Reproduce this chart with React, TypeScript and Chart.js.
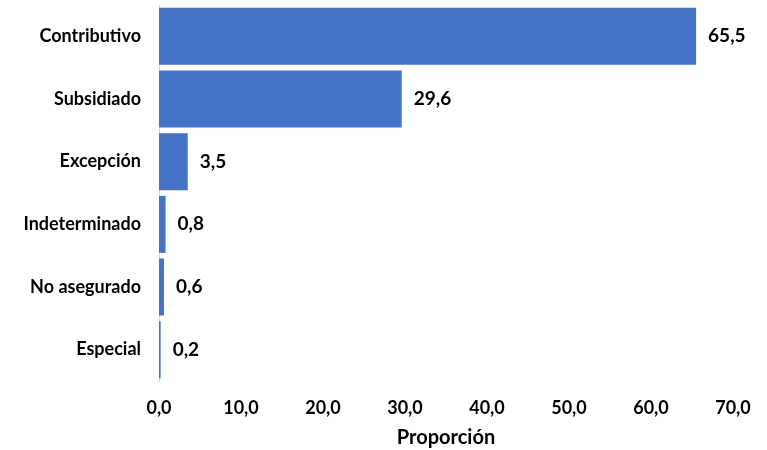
import React, { useEffect, useRef } from "react";
import { Chart, registerables } from "chart.js";

Chart.register(...registerables);

const categories = ["Contributivo", "Subsidiado", "Excepción", "Indeterminado", "No asegurado", "Especial"];
const values = [65.5, 29.6, 3.5, 0.8, 0.6, 0.2];
const axisTitle = "Proporción";

const FONT = "Lato, 'Open Sans', sans-serif";
const fmt = (v: number) => v.toFixed(1).replace(".", ",");

const labelPlugin = {
  id: "barLabels",
  afterDatasetsDraw(chart: any) {
    const { ctx } = chart;
    const meta = chart.getDatasetMeta(0);
    ctx.save();
    ctx.font = `bold 19px ${FONT}`;
    ctx.fillStyle = "#000";
    ctx.textAlign = "left";
    ctx.textBaseline = "middle";
    meta.data.forEach((bar: any, i: number) => {
      ctx.fillText(fmt(values[i]), bar.x + 12, bar.y);
    });
    ctx.restore();
  },
};

export default function App() {
  const ref = useRef<HTMLCanvasElement>(null);
  useEffect(() => {
    const chart = new Chart(ref.current!, {
      type: "bar",
      data: {
        labels: categories,
        datasets: [
          {
            data: values,
            backgroundColor: "#4472C4",
            barPercentage: 0.91,
            categoryPercentage: 1,
          },
        ],
      },
      options: {
        indexAxis: "y",
        animation: false,
        responsive: false,
        devicePixelRatio: 1,
        layout: { padding: { top: 5, right: 34, left: 0, bottom: 0 } },
        plugins: { legend: { display: false }, tooltip: { enabled: false } },
        scales: {
          x: {
            min: 0,
            max: 70,
            ticks: {
              stepSize: 10,
              padding: 16,
              color: "#000",
              font: { family: FONT, size: 18, weight: "bold" },
              callback: (v: any) => fmt(Number(v)),
            },
            grid: { display: false, drawTicks: false },
            border: { display: false },
            title: {
              display: true,
              text: axisTitle,
              color: "#000",
              font: { family: FONT, size: 20, weight: "bold" },
              padding: { top: 2, bottom: 0 },
            },
            afterFit: (s: any) => {
              s.height = 69;
              s.paddingLeft = 0;
              s.paddingRight = 0;
            },
          },
          y: {
            ticks: {
              padding: 18,
              color: "#000",
              font: { family: FONT, size: 18, weight: "bold" },
            },
            grid: { display: false, drawTicks: false },
            border: { display: true, color: "#d9d9d9", width: 1 },
            afterFit: (s: any) => {
              s.width = 159;
              s.paddingTop = 0;
              s.paddingBottom = 0;
            },
          },
        },
      },
      plugins: [labelPlugin],
    });
    return () => chart.destroy();
  }, []);
  return (
    <div style={{ position: "fixed", left: 0, top: 0, width: 767, height: 450, background: "#fff" }}>
      <canvas ref={ref} width={767} height={450} />
    </div>
  );
}
